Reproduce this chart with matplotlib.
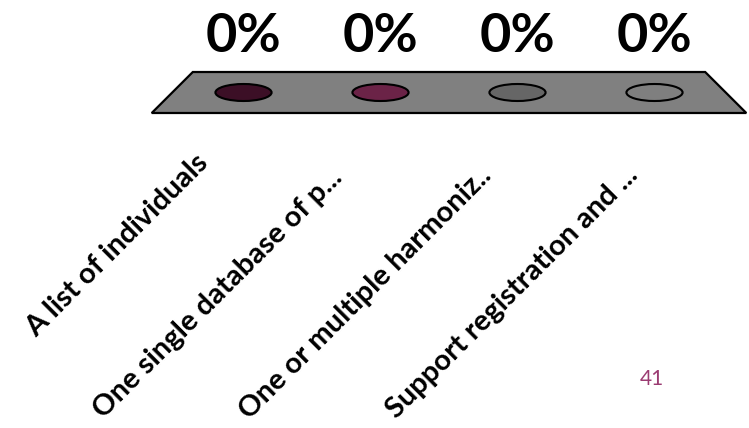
import matplotlib.pyplot as plt
from matplotlib.patches import Polygon, Ellipse, Rectangle

categories = ['A list of individuals', 'One single database of p...',
              'One or multiple harmoniz..', 'Support registration and ...']
values = [0, 0, 0, 0]  # share of responses, percent
bar_colors = ['#3c0f26', '#6b2347', '#666666', '#7f7f7f']
slide_number = '41'

plt.rcParams['font.family'] = ['Lato', 'DejaVu Sans']

fig = plt.figure(figsize=(7.49, 4.28), dpi=100)
ax = fig.add_axes([0, 0, 1, 1])

# x runs in category units (at mid depth), y in pixel rows counted from the top
step = 137.0
cx = 449.0
n = len(categories)
mid = (n - 1) / 2
ax.set_xlim(mid - cx / step, mid + (749 - cx) / step)
ax.set_ylim(428, 0)
ax.axis('off')

# floor of the 3d plot area, a bit wider at the front
back_y, front_y = 72, 113
half_back, half_front = 1.87, 2.17
floor = Polygon([(mid - half_back, back_y), (mid + half_back, back_y),
                 (mid + half_front, front_y), (mid - half_front, front_y)],
                closed=True, facecolor='#808080', edgecolor='black', lw=1.6)
ax.add_patch(floor)

base_y = (back_y + front_y) / 2
bar_w = 0.41
cap_h = 17
px_per_pct = 0.6

for i, v in enumerate(values):
    top = base_y - v * px_per_pct
    if v > 0:
        ax.add_patch(Rectangle((i - bar_w / 2, top), bar_w, base_y - top,
                               facecolor=bar_colors[i], edgecolor='black', lw=1.5))
        ax.add_patch(Ellipse((i, base_y), bar_w, cap_h, facecolor=bar_colors[i],
                             edgecolor='black', lw=1.5))
    ax.add_patch(Ellipse((i, top), bar_w, cap_h, facecolor=bar_colors[i],
                         edgecolor='black', lw=1.5))
    ax.text(i, 52, '%d%%' % v, ha='center', va='baseline',
            fontsize=39, fontweight='bold', color='black')

# category labels hang off the front edge, where categories are spread wider;
# the truncated ones sit a little further down their diagonal
front_scale = half_front / ((half_back + half_front) / 2)
slide = [0, 14, 12, 12]
for i, cat in enumerate(categories):
    xf = mid + (i - mid) * front_scale
    ax.text(xf - 0.24 - slide[i] / step, 150 + slide[i], cat, rotation=45,
            rotation_mode='anchor', ha='right', va='top', fontsize=21,
            fontweight='bold', color='black')

fig.text(652 / 749, 1 - 385 / 428, slide_number, fontsize=15, color='#9b3c72',
         ha='center', va='baseline')

fig.savefig('out.png', dpi=100)
